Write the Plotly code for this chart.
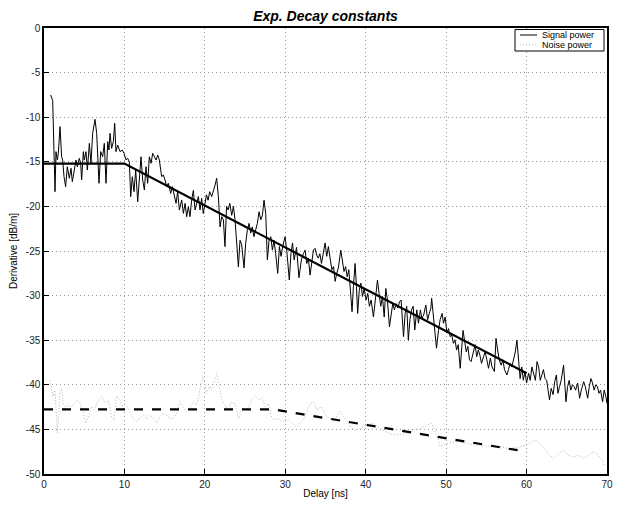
import plotly.graph_objects as go

# ---------------- data ----------------
sig_x = [0.83, 1.08, 1.37, 1.49, 1.66, 1.78, 1.99, 2.19, 2.32, 2.49, 2.69, 2.90, 3.15, 3.36, 3.52, 3.77, 3.98,
         4.14, 4.39, 4.56, 4.68, 4.89, 5.01, 5.22, 5.39, 5.64, 5.84, 6.05, 6.34, 6.55, 6.84, 7.05, 7.29, 7.50,
         7.71, 7.92, 8.08, 8.21, 8.41, 8.62, 8.79, 8.95, 9.16, 9.45, 9.74, 9.95, 10.20, 10.40, 10.61, 10.78,
         10.98, 11.19, 11.40, 11.65, 11.86, 12.06, 12.27, 12.48, 12.68, 12.89, 13.10, 13.31, 13.51, 13.72,
         13.93, 14.14, 14.34, 14.63, 14.84, 15.05, 15.25, 15.46, 15.75, 15.96, 16.17, 16.42, 16.62, 16.83,
         17.12, 17.33, 17.54, 17.74, 17.95,
         18.15, 18.36, 18.57, 18.78, 18.98, 19.19, 19.40, 19.60, 19.80, 20.00, 20.20, 20.40, 20.60, 20.85,
         21.06, 21.27, 21.47, 21.68, 21.89, 22.10, 22.30, 22.50, 22.70, 22.90, 23.10, 23.34, 23.55, 23.75,
         23.96, 24.17, 24.37, 24.58, 24.87, 25.08, 25.29, 25.50, 25.70, 25.90, 26.10, 26.30, 26.53, 26.74,
         26.95, 27.15, 27.36, 27.57, 27.77, 27.98, 28.20, 28.40, 28.60, 28.80, 29.06, 29.27, 29.47, 29.68,
         29.97, 30.18, 30.50, 30.70, 30.90, 31.10, 31.40, 31.70,
         32.00, 32.25, 32.46, 32.67, 32.87, 33.08, 33.30, 33.50, 33.70, 33.90, 34.10, 34.30, 34.50, 34.74,
         34.95, 35.15, 35.36, 35.57, 35.80, 36.00, 36.20, 36.40, 36.60, 36.90, 37.10, 37.30, 37.50, 37.70,
         37.90, 38.10, 38.30, 38.47, 38.68, 38.85, 39.00, 39.20, 39.40, 39.60, 39.80, 40.05, 40.25, 40.46,
         40.67, 40.96, 41.20, 41.46, 41.66, 41.87, 42.08, 42.30, 42.50, 42.70, 42.95, 43.15, 43.36, 43.57,
         43.78, 44.00, 44.20, 44.40, 44.70, 44.90, 45.10, 45.30, 45.50, 45.70, 45.90, 46.10, 46.35, 46.56,
         46.80, 46.97, 47.20, 47.47, 47.70, 47.90,
         48.10, 48.20, 48.40, 48.60, 48.80, 49.05, 49.25, 49.50, 49.67, 49.88, 50.10, 50.30, 50.50, 50.70,
         50.90, 51.10, 51.30, 51.50, 51.75, 52.10, 52.30, 52.50, 52.70, 52.90, 53.10, 53.30, 53.60, 53.80,
         54.00, 54.20, 54.40, 54.65, 54.85, 55.06, 55.27, 55.50, 55.70, 56.00, 56.20, 56.40, 56.60, 56.85,
         57.05, 57.26, 57.55, 57.75, 57.96, 58.17, 58.40, 58.60, 58.80, 59.00, 59.20, 59.40, 59.60, 59.80,
         60.00, 60.25, 60.45, 60.66, 60.87, 61.10, 61.30, 61.50, 61.70, 61.90, 62.10, 62.30, 62.50, 62.85,
         63.06, 63.30, 63.50, 63.70, 63.90, 64.10, 64.30, 64.60, 64.90, 65.10, 65.30, 65.50, 65.70, 65.90,
         66.10, 66.35, 66.60, 66.80, 67.10, 67.30, 67.60, 67.80, 68.00, 68.20, 68.40, 68.60, 68.80, 69.00,
         69.20, 69.45, 69.65, 69.86, 70.00]
sig_y = [-7.51, -8.15, -18.35, -13.86, -14.80, -14.05, -11.06, -14.43, -14.80, -16.67, -17.79, -15.55, -16.85,
         -15.73, -17.23, -15.92, -14.80, -15.55, -14.61, -15.17, -17.04, -13.86, -14.80, -13.86, -15.92, -12.93,
         -15.17, -11.81, -10.24, -11.81, -17.41, -13.86, -14.43, -12.93, -17.41, -12.74, -13.68, -11.81, -13.49,
         -12.74, -10.69, -13.86, -13.12, -13.86, -13.68, -14.05, -14.80, -14.61, -14.99, -18.91, -16.67, -18.35,
         -15.92, -19.47, -16.29, -14.43, -17.04, -18.16, -15.55, -17.41, -14.43, -15.17, -14.05, -14.43, -14.80,
         -14.24, -14.80, -16.67, -16.48, -17.04, -17.79, -17.41, -18.54, -17.79, -18.72, -19.66, -18.35, -20.40,
         -19.28, -20.78, -19.66, -21.15, -20.03,
         -21.15, -19.30, -18.20, -20.40, -19.50, -18.90, -20.40, -19.10, -20.80, -19.50, -18.70, -19.30, -18.35,
         -18.90, -18.35, -17.60, -16.85, -18.90, -22.30, -21.15, -21.50, -24.50, -20.00, -20.40, -19.65, -21.00,
         -20.00, -21.50, -24.10, -26.80, -23.80, -24.30, -26.90, -24.10, -22.60, -21.90, -23.00, -22.30, -23.40,
         -22.60, -21.90, -20.60, -21.50, -21.00, -19.30, -20.80, -26.00, -23.80, -23.40, -24.90, -23.80, -25.30,
         -27.50, -24.50, -25.60, -24.50, -23.40, -24.90, -28.25, -25.30, -24.10, -26.00, -24.60, -28.00,
         -26.00, -25.30, -24.90, -26.40, -25.80, -27.70, -26.20, -24.90, -24.70, -25.45, -25.80, -25.30, -26.40,
         -24.90, -24.10, -25.60, -24.50, -25.80, -27.10, -26.75, -28.40, -27.50, -26.90, -24.90, -26.00, -27.30,
         -26.75, -27.90, -27.10, -29.75, -31.80, -29.00, -26.40, -29.00, -32.00, -29.40, -28.60, -30.10, -29.20,
         -30.50, -29.75, -31.20, -30.50, -32.40, -30.10, -28.25, -29.75, -31.20, -30.10, -32.40, -29.20, -30.50,
         -33.50, -32.40, -30.90, -31.60, -30.90, -31.40, -30.70, -30.50, -34.60, -32.00, -31.20, -35.00, -32.70,
         -31.60, -31.20, -33.85, -31.60, -33.10, -31.60, -32.55, -32.20, -31.05, -32.70, -32.00,
         -31.40, -30.30, -32.00, -33.90, -35.90, -33.90, -32.70, -32.00, -33.10, -32.40, -34.20, -33.70, -34.60,
         -34.40, -35.35, -34.95, -36.10, -35.50, -38.15, -33.90, -35.35, -36.30, -35.70, -37.20, -37.40, -36.50,
         -35.50, -36.85, -36.10, -36.70, -37.60, -36.85, -36.30, -37.20, -38.15, -37.00, -38.00, -38.50, -34.80,
         -36.10, -37.20, -37.80, -37.20, -38.30, -38.90, -38.30, -37.60, -38.00, -37.20, -36.30, -35.00, -37.20,
         -39.30, -38.00, -39.50, -38.50, -39.80, -38.70, -39.50, -38.00, -38.70, -39.50, -37.40, -38.00, -39.50,
         -38.90, -38.30, -39.30, -39.50, -41.70, -40.40, -41.10, -39.65, -38.90, -40.95, -40.20, -39.50, -37.80,
         -41.90, -40.20, -39.50, -40.60, -40.00, -40.20, -40.60, -39.80, -41.50, -40.60, -39.65, -40.20, -41.50,
         -40.20, -39.30, -39.80, -40.60, -40.00, -40.20, -40.95, -40.60, -41.90, -40.60, -41.30, -42.10]

noise_x = [0.74, 0.95, 1.16, 1.37, 1.50, 1.66, 1.78, 1.99, 2.20, 2.40, 2.60, 3.00, 3.40, 3.85, 4.14, 4.47, 4.90,
           5.20, 5.50, 5.90, 6.30, 6.75, 7.17, 7.60, 8.00, 8.40, 8.70, 9.00, 9.45, 9.90, 10.30, 10.70, 11.10,
           11.50, 11.90, 12.35, 12.80, 13.20, 13.60, 14.00, 14.40, 14.80, 15.25, 15.70, 16.10, 16.50, 16.90,
           17.30, 17.70, 18.20, 18.60, 19.00, 19.40, 19.70, 20.00, 20.20, 20.60, 20.85, 21.06, 21.50, 21.80,
           22.10, 22.50, 22.90, 23.30, 23.75, 24.20, 24.60, 25.00, 25.40, 25.80, 26.20, 26.70, 27.10, 27.50,
           27.90, 28.30, 28.70, 29.10, 29.60, 30.00, 30.40, 31.40, 32.25, 33.10, 33.50, 33.90, 34.50, 35.15,
           36.00, 36.80, 37.60, 38.50, 39.30, 40.10, 41.00, 41.80, 42.60, 43.45, 44.30, 45.10, 45.90, 46.80,
           47.60, 48.20, 48.80, 49.25, 50.10, 50.90, 51.70, 52.60, 53.40, 54.20, 55.05, 55.90, 56.70, 57.50,
           58.40, 59.20, 60.00, 60.90, 61.50, 62.10, 62.70, 63.35, 64.00, 64.60, 65.20, 65.80, 66.50, 67.10,
           67.70, 68.30, 68.95, 69.40, 69.80]
noise_y = [-39.5, -40.6, -41.3, -40.6, -42.8, -45.4, -43.95, -41.0, -40.4, -42.1, -42.45, -42.3, -42.45, -42.1,
           -41.7, -42.1, -43.2, -44.3, -43.6, -42.45, -42.8, -41.7, -41.3, -42.1, -41.7, -43.6, -43.95, -41.3,
           -41.7, -42.8, -42.45, -43.2, -43.8, -44.1, -43.8, -43.4, -43.8, -43.4, -43.8, -44.3, -43.6, -43.2,
           -43.4, -43.8, -43.8, -43.2, -41.9, -42.45, -43.0, -42.45, -41.9, -42.3, -40.6, -39.1, -39.8, -41.0,
           -40.2, -40.6, -39.8, -38.7, -40.2, -41.7, -42.3, -42.8, -41.9, -42.1, -43.8, -42.6, -42.8, -42.6,
           -41.7, -41.3, -41.7, -41.5, -42.45, -42.1, -43.6, -43.95, -43.8, -44.1, -43.8, -43.95, -44.7, -43.95,
           -42.1, -41.9, -42.8, -42.45, -43.6, -44.1, -43.0, -43.95, -45.1, -44.9, -44.5, -44.3, -44.9, -45.3,
           -45.6, -45.6, -45.4, -45.1, -44.9, -44.5, -44.3, -45.6, -46.9, -46.6, -46.4, -46.4, -46.6, -46.75,
           -46.75, -46.9, -46.75, -46.9, -47.1, -47.1, -46.9, -46.75, -46.2, -46.4, -47.1, -47.7, -48.25, -47.7,
           -47.3, -47.9, -48.1, -47.9, -48.25, -47.9, -47.5, -47.9, -48.4, -49.2]

sig_fit_x = [0, 10, 60]
sig_fit_y = [-15.2, -15.2, -38.7]
noise_fit_x = [0, 28.5, 60]
noise_fit_y = [-42.75, -42.75, -47.5]

x_ticks = [0, 10, 20, 30, 40, 50, 60, 70]
y_ticks = [0, -5, -10, -15, -20, -25, -30, -35, -40, -45, -50]
x_tick_text = [str(v) for v in x_ticks]
y_tick_text = [str(v) for v in y_ticks]

legend_names = ["Signal power", "Noise power"]

# ---------------- figure ----------------
SIG_LINE = dict(color="black", width=1)
NOISE_LINE = dict(color="#b4b4b4", width=1, dash="1px,2px")

fig = go.Figure()
fig.add_trace(go.Scatter(x=sig_x, y=sig_y, mode="lines", name=legend_names[0], line=SIG_LINE, showlegend=False))
fig.add_trace(go.Scatter(x=noise_x, y=noise_y, mode="lines", name=legend_names[1], line=NOISE_LINE, showlegend=False))
fig.add_trace(go.Scatter(x=sig_fit_x, y=sig_fit_y, mode="lines", showlegend=False,
                         line=dict(color="black", width=2.2)))
fig.add_trace(go.Scatter(x=noise_fit_x, y=noise_fit_y, mode="lines", showlegend=False,
                         line=dict(color="black", width=2.2, dash="dash")))

font = "Liberation Sans, Arial, Helvetica, sans-serif"

# compact MATLAB-style legend box (paper coordinates of the plot area)
lg_x0, lg_x1, lg_y0, lg_y1 = 0.8366, 0.9947, 0.9484, 0.9966
row_y = [0.9843, 0.9619]
fig.add_shape(type="rect", xref="paper", yref="paper", x0=lg_x0, x1=lg_x1, y0=lg_y0, y1=lg_y1,
              line=dict(color="black", width=1), fillcolor="white", layer="above")
for ry, ln in zip(row_y, [SIG_LINE, NOISE_LINE]):
    fig.add_shape(type="line", xref="paper", yref="paper", x0=0.8455, x1=0.8757, y0=ry, y1=ry,
                  line=ln, layer="above")
for ry, name in zip(row_y, legend_names):
    fig.add_annotation(xref="paper", yref="paper", x=0.8828, y=ry, text=name, showarrow=False,
                       xanchor="left", yanchor="middle", borderpad=0,
                       font=dict(size=9, family=font, color="black"))

axis_common = dict(showline=True, linecolor="black", linewidth=1.5, mirror=True,
                   ticks="inside", ticklen=5, tickcolor="black", automargin=False,
                   showgrid=True, gridcolor="#999999", griddash="1px,3px", gridwidth=1,
                   zeroline=False, tickfont=dict(size=10, color="#222", family=font))

fig.update_layout(
    width=623, height=498,
    margin=dict(l=36, r=24, t=20, b=32),
    paper_bgcolor="white", plot_bgcolor="white",
    title=dict(text="<b><i>Exp. Decay constants</i></b>", x=0.5, xref="paper", xanchor="center",
               y=1 - 8 / 498, yref="container", yanchor="middle",
               font=dict(size=14, family=font, color="black")),
    font=dict(family=font, size=10, color="black"),
    showlegend=False,
    xaxis=dict(range=[0, 70], tickvals=x_ticks, ticktext=x_tick_text,
               title=dict(text="Delay [ns]", font=dict(size=10), standoff=1),
               **axis_common),
    yaxis=dict(range=[-50, 0], tickvals=y_ticks, ticktext=y_tick_text,
               title=dict(text="Derivative [dB/m]", font=dict(size=10), standoff=6),
               **axis_common),
)

fig.write_html("out.html")
